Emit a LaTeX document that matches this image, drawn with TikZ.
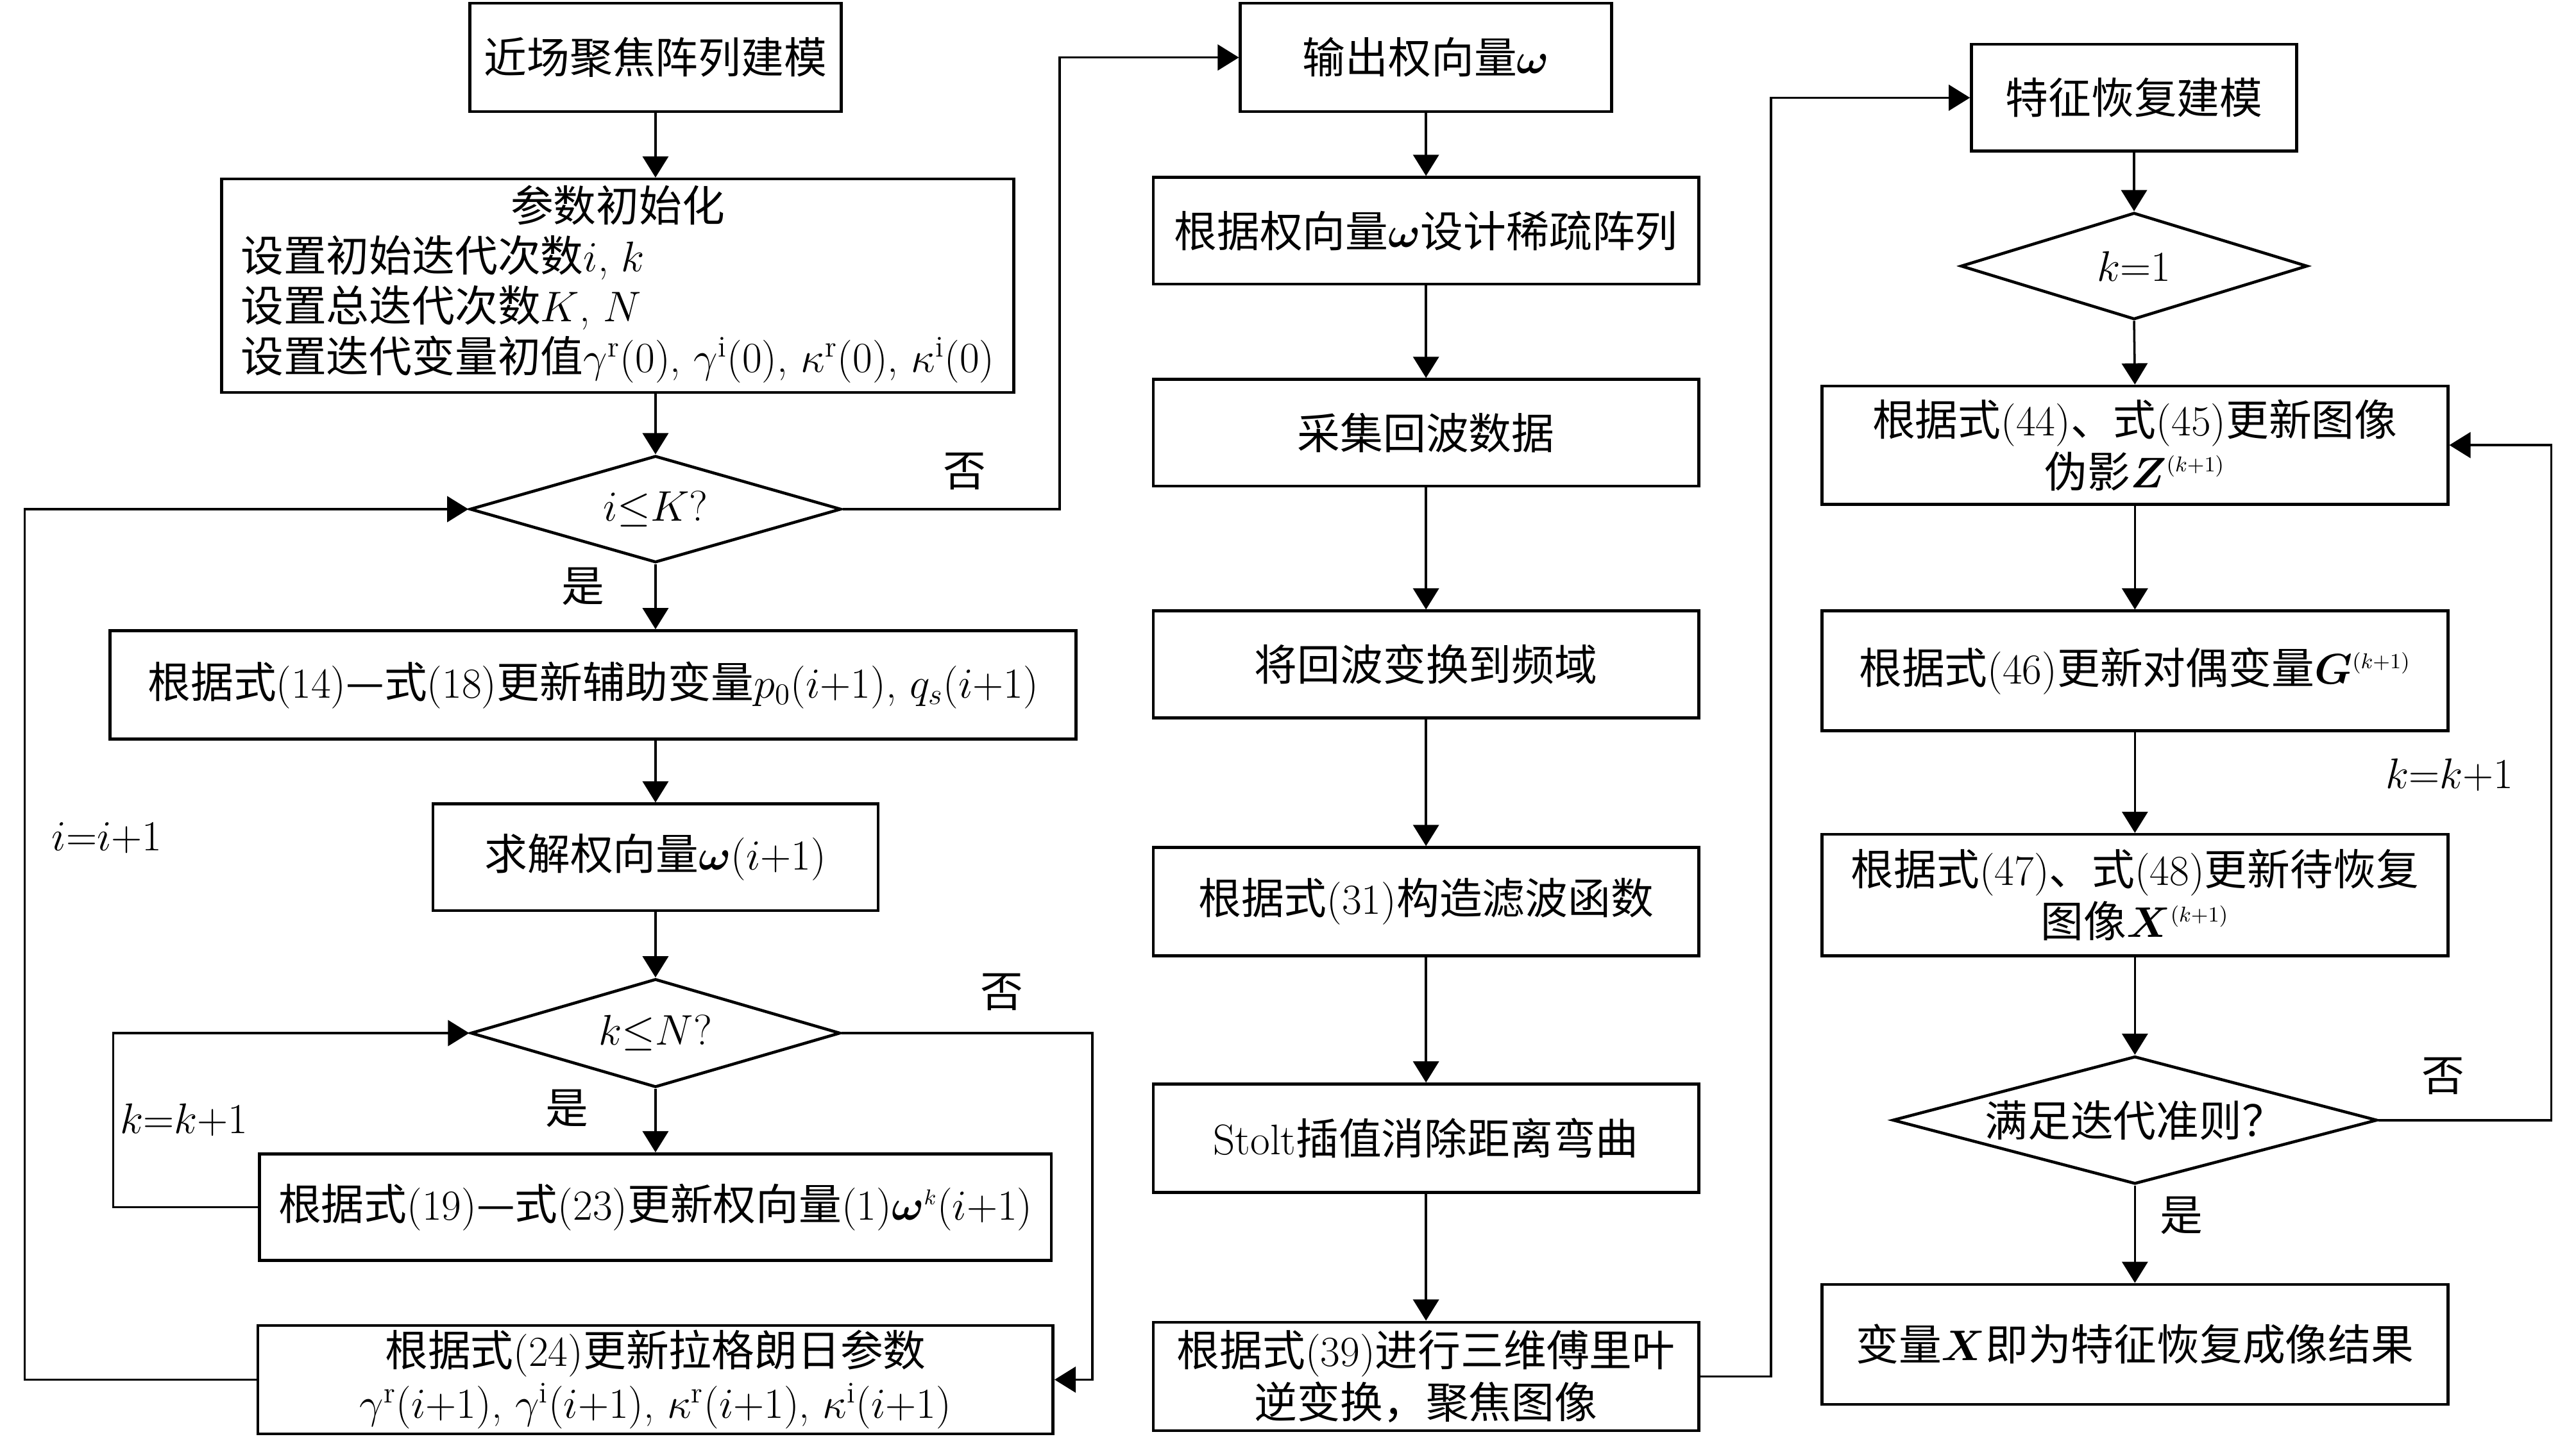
\RequirePackage{fix-cm}
\documentclass[tikz,border=0pt]{standalone}
\usepackage{bm}
\usepackage{fontspec}
\newfontfamily\cjk{Noto Sans CJK SC}
\usetikzlibrary{shapes.geometric,arrows.meta}
\newcommand\zh[1]{{\cjk #1}}
\newcommand\sps[1]{^{\scriptscriptstyle #1}}
\begin{document}
\begin{tikzpicture}[x=0.02561cm,y=-0.02561cm,
  font=\fontsize{19}{23}\selectfont,
  box/.style 2 args={draw,line width=1.3pt,minimum width=#1*0.02561cm,minimum height=#2*0.02561cm,inner sep=0pt,align=center},
  dia/.style 2 args={diamond,draw,line width=1.3pt,minimum width=#1*0.02561cm,minimum height=#2*0.02561cm,inner sep=0pt,aspect=3.4},
  arr/.style={draw,line width=1pt,-{Triangle[length=9.4pt,width=11.4pt]}},
  lbl/.style={inner sep=0pt}]
\fill[white] (0,0) rectangle (1568,876);
\useasboundingbox (0,0) rectangle (1568,876);
% column 1
\node[box={226}{66}] (B1) at (399,35) {\zh{近场聚焦阵列建模}};
\node[box={482}{130}] (B2) at (376,174) {\renewcommand\arraystretch{0.9}\begin{tabular}{@{}l@{}}\multicolumn{1}{@{}c@{}}{\zh{参数初始化}}\\
 \zh{设置初始迭代次数}$i$, $k$\\
 \zh{设置总迭代次数}$K$, $N$\\
 \zh{设置迭代变量初值}$\gamma^{\mathrm{r}}(0)$, $\gamma^{\mathrm{i}}(0)$, $\kappa^{\mathrm{r}}(0)$, $\kappa^{\mathrm{i}}(0)$\end{tabular}};
\node[dia={226}{65}] (D1) at (399,310) {$i{\le}K$?};
\node[box={588}{66}] (B3) at (361,417) {\zh{根据式}(14)\zh{—式}(18)\zh{更新辅助变量}$p_0(i{+}1)$, $q_s(i{+}1)$};
\node[box={271}{65}] (B4) at (399,522) {\zh{求解权向量}$\bm{\omega}(i{+}1)$};
\node[dia={225}{66}] (D2) at (399,629) {$k{\le}N$?};
\node[box={482}{65}] (B5) at (399,735) {\zh{根据式}(19)\zh{—式}(23)\zh{更新权向量}(1)$\bm{\omega}\sps{k}(i{+}1)$};
\node[box={484}{66}] (B6) at (399,840) {\zh{根据式}(24)\zh{更新拉格朗日参数}\\ $\gamma^{\mathrm{r}}(i{+}1)$, $\gamma^{\mathrm{i}}(i{+}1)$, $\kappa^{\mathrm{r}}(i{+}1)$, $\kappa^{\mathrm{i}}(i{+}1)$};
% column 2
\node[box={226}{66}] (C1) at (868,35) {\zh{输出权向量}$\bm{\omega}$};
\node[box={332}{65}] (C2) at (868,140.5) {\zh{根据权向量}$\bm{\omega}$\zh{设计稀疏阵列}};
\node[box={332}{65}] (C3) at (868,263.5) {\zh{采集回波数据}};
\node[box={332}{65}] (C4) at (868,404.5) {\zh{将回波变换到频域}};
\node[box={332}{66}] (C5) at (868,549) {\zh{根据式}(31)\zh{构造滤波函数}};
\node[box={332}{66}] (C6) at (868,693) {Stolt\zh{插值消除距离弯曲}};
\node[box={332}{66}] (C7) at (868,838) {\zh{根据式}(39)\zh{进行三维傅里叶}\\ \zh{逆变换，聚焦图像}};
% column 3
\node[box={198}{65}] (E1) at (1299,59.5) {\zh{特征恢复建模}};
\node[dia={211}{65}] (E2) at (1299,162) {$k{=}1$};
\node[box={381}{72}] (E3) at (1299.5,271) {\zh{根据式}(44)\zh{、式}(45)\zh{更新图像}\\ \zh{伪影}$\bm{Z}\sps{(k+1)}$};
\node[box={381}{73}] (E4) at (1299.5,408.5) {\zh{根据式}(46)\zh{更新对偶变量}$\bm{G}\sps{(k+1)}$};
\node[box={381}{74}] (E5) at (1299.5,545) {\zh{根据式}(47)\zh{、式}(48)\zh{更新待恢复}\\ \zh{图像}$\bm{X}\sps{(k+1)}$};
\node[dia={295}{73}] (E6) at (1299.5,682) {\zh{满足迭代准则？}};
\node[box={381}{73}] (E7) at (1299.5,818.5) {\zh{变量}$\bm{X}$\zh{即为特征恢复成像结果}};
% helper coordinates
\coordinate (ix) at (15,0);
\coordinate (kx) at (69,0);
\coordinate (ox) at (645,0);
\coordinate (nx) at (665,0);
\coordinate (cx) at (1078,0);
\coordinate (ex) at (1553,0);
% connectors column 1
\draw[arr] (B1.south) -- (B1.south |- B2.north);
\draw[arr] (D1.north |- B2.south) -- (D1.north);
\draw[arr] (D1.south) -- (D1.south |- B3.north);
\draw[arr] (B4.north |- B3.south) -- (B4.north);
\draw[arr] (B4.south) -- (D2.north);
\draw[arr] (D2.south) -- (B5.north);
\draw[arr] (B5.west) -- (B5.west -| kx) |- (D2.west);
\draw[arr] (B6.west) -- (B6.west -| ix) |- (D1.west);
\draw[arr] (D2.east) -- (D2.east -| nx) |- (B6.east);
\draw[arr] (D1.east) -- (D1.east -| ox) |- (C1.west);
% column 2
\draw[arr] (C1.south) -- (C2.north);
\draw[arr] (C2.south) -- (C3.north);
\draw[arr] (C3.south) -- (C4.north);
\draw[arr] (C4.south) -- (C5.north);
\draw[arr] (C5.south) -- (C6.north);
\draw[arr] (C6.south) -- (C7.north);
\draw[arr] (C7.east) -- (C7.east -| cx) |- (E1.west);
% column 3
\draw[arr] (E1.south) -- (E2.north);
\draw[arr] (E2.south) -- (E3.north);
\draw[arr] (E3.south) -- (E4.north);
\draw[arr] (E4.south) -- (E5.north);
\draw[arr] (E5.south) -- (E6.north);
\draw[arr] (E6.south) -- (E7.north);
\draw[arr] (E6.east) -- (E6.east -| ex) |- (E3.east);
% labels
\node[lbl] (L1) at (587,287) {\zh{否}};
\node[lbl] (L2) at (355,357) {\zh{是}};
\node[lbl] (L3) at (65,510) {$i{=}i{+}1$};
\node[lbl] (L4) at (610,604) {\zh{否}};
\node[lbl] (L5) at (345,675) {\zh{是}};
\node[lbl] (L6) at (112,682) {$k{=}k{+}1$};
\node[lbl] (L7) at (1491,472) {$k{=}k{+}1$};
\node[lbl] (L8) at (1487,655) {\zh{否}};
\node[lbl] (L9) at (1328,740) {\zh{是}};
\end{tikzpicture}
\end{document}
